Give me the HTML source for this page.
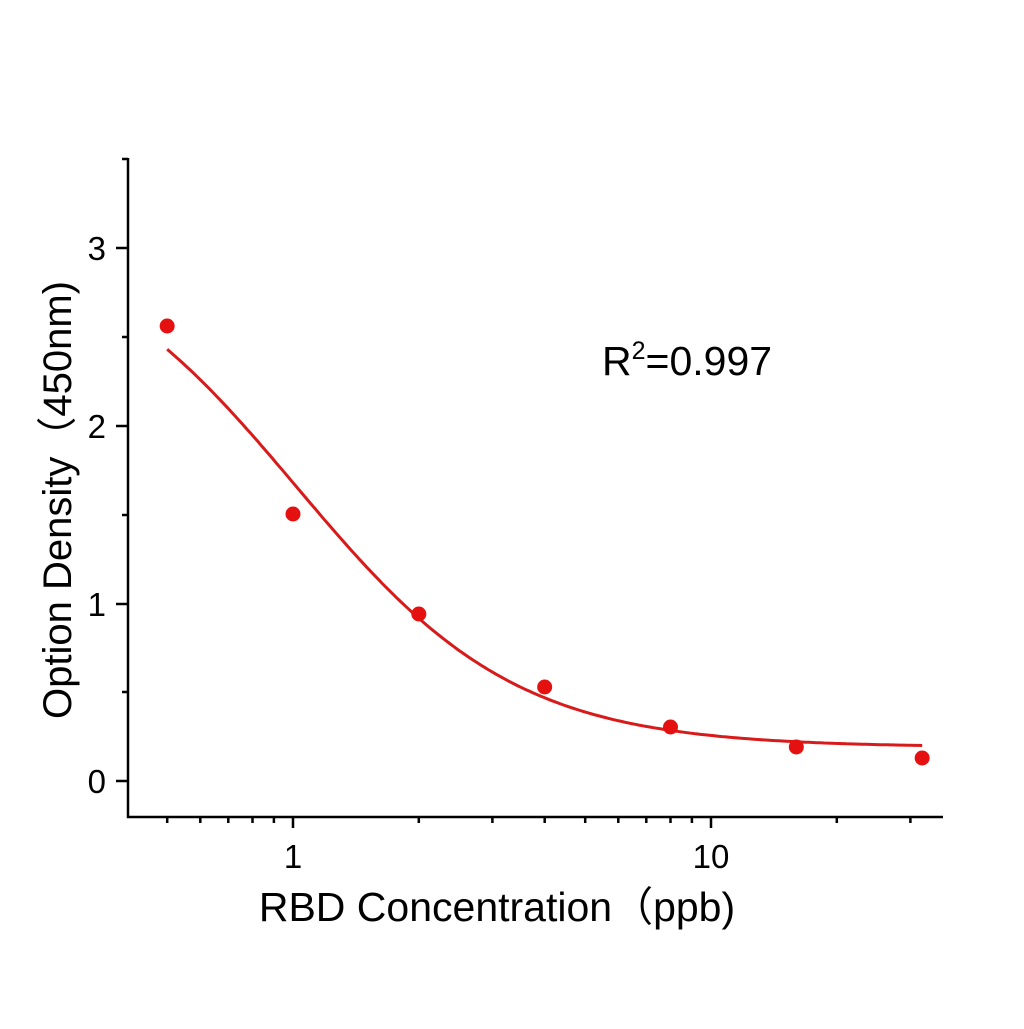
<!DOCTYPE html><html><head><style>body{margin:0;background:#fff}</style></head><body>
<svg id="s" width="1024" height="1024" xmlns="http://www.w3.org/2000/svg" font-family="Liberation Sans, sans-serif">
<g stroke="#000" stroke-width="2.5" fill="none">
<path d="M128 158V817H943"/>
<path d="M116 781H128M116 604H128M116 426H128M116 248H128M122 692H128M122 515H128M122 337H128M122 159H128"/>
</g>
<g font-size="33" text-anchor="end" fill="#000">
<text x="106" y="793">0</text><text x="106" y="616">1</text><text x="106" y="438">2</text><text x="106" y="260">3</text>
</g>
<g font-size="33" text-anchor="middle"><text x="293" y="868">1</text><text x="711" y="868">10</text></g>
<text x="497" y="921" font-size="41" text-anchor="middle">RBD  Concentration（ppb)</text>
<text transform="translate(71,500) rotate(-90)" font-size="40" text-anchor="middle">Option Density（450nm)</text>
<text x="602" y="375" font-size="41">R<tspan font-size="25" dy="-16">2</tspan><tspan dy="16">=0.997</tspan></text>
<g id="g"></g>
</svg>
<script>
var s=document.getElementById('g'),ns='http://www.w3.org/2000/svg';
function X(v){return 293+418*Math.log10(v)}function Y(v){return 781-177.7*v}
var t='';
for(var d of [0.1,1,10]){for(var k=1;k<10;k++){var v=d*k;var x=X(v);if(x<127||x>944)continue;var L=(k==1)?11:6;t+='M'+x.toFixed(1)+' 817V'+(817+L)}}
var p=document.createElementNS(ns,'path');p.setAttribute('d',t);p.setAttribute('stroke','#000');p.setAttribute('stroke-width','2.5');s.appendChild(p);
var c='';for(var i=0;i<=200;i++){var lx=Math.log10(0.5)+i/200*(Math.log10(32)-Math.log10(0.5));var v=Math.pow(10,lx);var y=0.19+2.93/(1+Math.pow(v/1.02,1.65));c+=(i?'L':'M')+X(v).toFixed(1)+' '+Y(y).toFixed(1)}
p=document.createElementNS(ns,'path');p.setAttribute('d',c);p.setAttribute('stroke','#d91a1a');p.setAttribute('stroke-width','3');p.setAttribute('fill','none');s.appendChild(p);
[[0.5,326],[1,514],[2,614],[4,687],[8,727],[16,747],[32,758]].forEach(function(q){var e=document.createElementNS(ns,'circle');e.setAttribute('cx',X(q[0]));e.setAttribute('cy',q[1]);e.setAttribute('r',7.5);e.setAttribute('fill','#e51010');s.appendChild(e)});
</script>
</body></html>
